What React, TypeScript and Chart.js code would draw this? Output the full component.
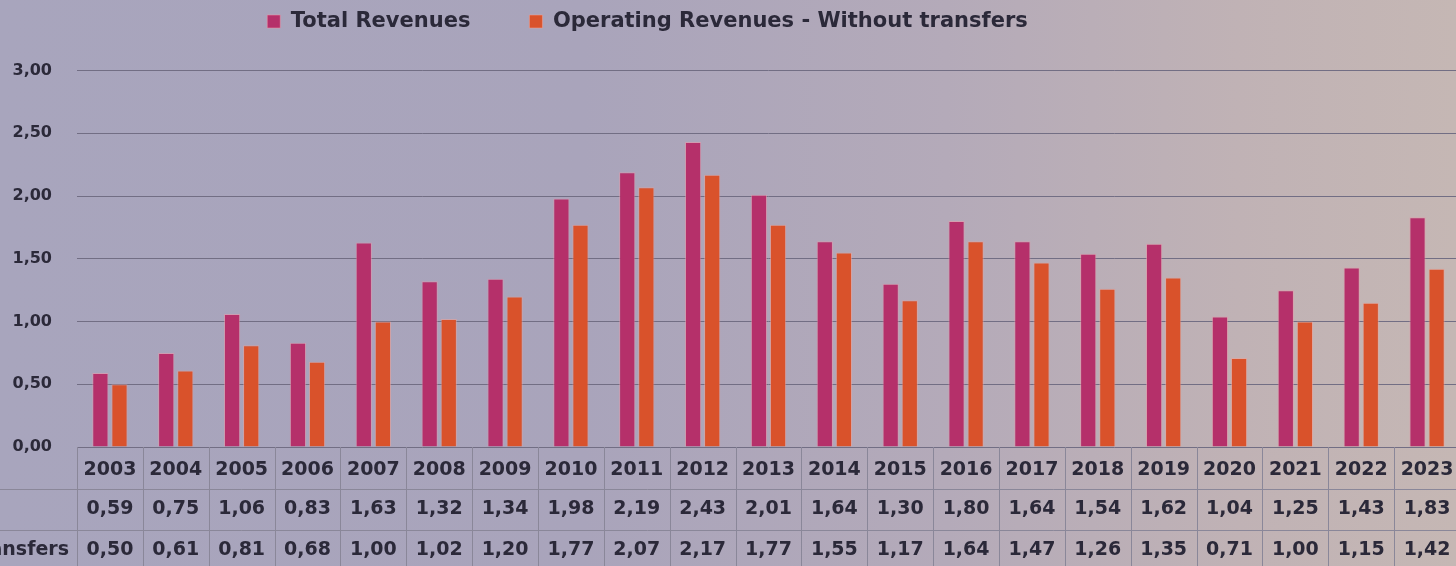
import React, { useEffect, useRef } from "react";
import { Chart, registerables } from "chart.js";

Chart.register(...registerables);

// ---- data ----
const years = [
  "2003", "2004", "2005", "2006", "2007", "2008", "2009", "2010", "2011", "2012", "2013",
  "2014", "2015", "2016", "2017", "2018", "2019", "2020", "2021", "2022", "2023",
];
const totalRevenues = [
  0.59, 0.75, 1.06, 0.83, 1.63, 1.32, 1.34, 1.98, 2.19, 2.43, 2.01,
  1.64, 1.3, 1.8, 1.64, 1.54, 1.62, 1.04, 1.25, 1.43, 1.83,
];
const operatingRevenues = [
  0.5, 0.61, 0.81, 0.68, 1.0, 1.02, 1.2, 1.77, 2.07, 2.17, 1.77,
  1.55, 1.17, 1.64, 1.47, 1.26, 1.35, 0.71, 1.0, 1.15, 1.42,
];
const seriesNames = ["Total Revenues", "Operating Revenues - Without transfers"];
const yMin = 0;
const yMax = 3;
const yStep = 0.5;

// ---- layout / style ----
const L = 165; // part of the chart cut off on the left
const W = 1456;
const H = 566;
const CW = L + 1475;
const FONT = "'DejaVu Sans', sans-serif";
const TEXT = "#2b2939";
const GRID = "#726e84";
const TABLE_LINE = "#8a8799";
const PINK = "#b5306a";
const ORANGE = "#d9522b";

const fmt = (v: number) => v.toFixed(2).replace(".", ",");

export default function App() {
  const ref = useRef<HTMLCanvasElement>(null);

  useEffect(() => {
    const canvas = ref.current;
    if (!canvas) return;

    const tablePlugin = {
      id: "dataTable",
      beforeInit(chart: any) {
        const legend = chart.legend;
        if (legend) {
          const fit = legend.fit.bind(legend);
          legend.fit = function () {
            fit();
            this.height += 28.5;
          };
        }
      },
      afterDraw(chart: any) {
        const { ctx, chartArea, scales } = chart;
        const x = scales.x;
        const top = chartArea.bottom;
        const rows = [top, top + 42, top + 83, top + 124];
        ctx.save();
        ctx.strokeStyle = TABLE_LINE;
        ctx.lineWidth = 1;
        for (let i = 0; i <= years.length; i++) {
          const px = Math.round(x.getPixelForValue(i - 0.5)) + 0.5;
          ctx.beginPath();
          ctx.moveTo(px, top);
          ctx.lineTo(px, chart.height);
          ctx.stroke();
        }
        for (let r = 1; r < rows.length; r++) {
          const py = Math.round(rows[r]) + 0.5;
          ctx.beginPath();
          ctx.moveTo(0, py);
          ctx.lineTo(chartArea.right, py);
          ctx.stroke();
        }
        ctx.font = `bold 19px ${FONT}`;
        ctx.fillStyle = TEXT;
        ctx.textAlign = "center";
        ctx.textBaseline = "middle";
        [totalRevenues, operatingRevenues].forEach((vals, r) => {
          const cy = (rows[r + 1] + rows[r + 2]) / 2;
          vals.forEach((v, i) => ctx.fillText(fmt(v), x.getPixelForValue(i), cy));
        });
        const labelRight = chartArea.left - 8;
        const w = ctx.measureText(seriesNames[1]).width;
        ctx.textAlign = "left";
        seriesNames.forEach((name, r) => {
          ctx.fillText(name, labelRight - w, (rows[r + 1] + rows[r + 2]) / 2);
        });
        ctx.restore();
      },
    };

    const chart = new Chart(canvas, {
      type: "bar",
      data: {
        labels: years,
        datasets: [
          {
            label: seriesNames[0],
            data: totalRevenues,
            backgroundColor: PINK,
            borderColor: "rgba(236,150,168,0.55)",
            borderWidth: 1,
            categoryPercentage: 0.58,
            barPercentage: 0.85,
          },
          {
            label: seriesNames[1],
            data: operatingRevenues,
            backgroundColor: ORANGE,
            borderColor: "rgba(240,160,150,0.55)",
            borderWidth: 1,
            categoryPercentage: 0.58,
            barPercentage: 0.85,
          },
        ],
      },
      options: {
        responsive: false,
        maintainAspectRatio: false,
        animation: false,
        devicePixelRatio: 1,
        layout: { padding: { top: -48, right: 15, left: 0, bottom: 0 } },
        plugins: {
          legend: {
            position: "top",
            labels: {
              boxWidth: 13,
              boxHeight: 13,
              padding: 59,
              color: TEXT,
              font: { family: FONT, size: 21, weight: "bold" },
            },
          },
          tooltip: { enabled: false },
        },
        scales: {
          x: {
            grid: { display: false, drawTicks: false },
            border: { display: false },
            ticks: {
              color: TEXT,
              font: { family: FONT, size: 19, weight: "bold" },
              padding: 12,
              maxRotation: 0,
              autoSkip: false,
            },
            afterFit(s: any) {
              s.height = H - 447;
            },
          },
          y: {
            min: yMin,
            max: yMax,
            ticks: {
              stepSize: yStep,
              callback: (v: any) => fmt(Number(v)),
              color: TEXT,
              font: { family: FONT, size: 16, weight: "bold" },
              padding: 25,
            },
            grid: { color: GRID, drawTicks: false, lineWidth: 1 },
            border: { display: false },
            afterFit(s: any) {
              s.width = L + 77;
            },
          },
        },
      },
      plugins: [tablePlugin],
    });

    return () => chart.destroy();
  }, []);

  return (
    <div
      style={{
        position: "fixed",
        left: 0,
        top: 0,
        width: W,
        height: H,
        overflow: "hidden",
        background:
          "linear-gradient(90deg, #a8a5bd 0%, #a9a4bb 40%, #b4aab9 65%, #c0b2b5 85%, #c5b7b4 100%)",
      }}
    >
      <canvas
        ref={ref}
        width={CW}
        height={H}
        style={{ position: "absolute", left: -L, top: 0, width: CW, height: H }}
      />
    </div>
  );
}
